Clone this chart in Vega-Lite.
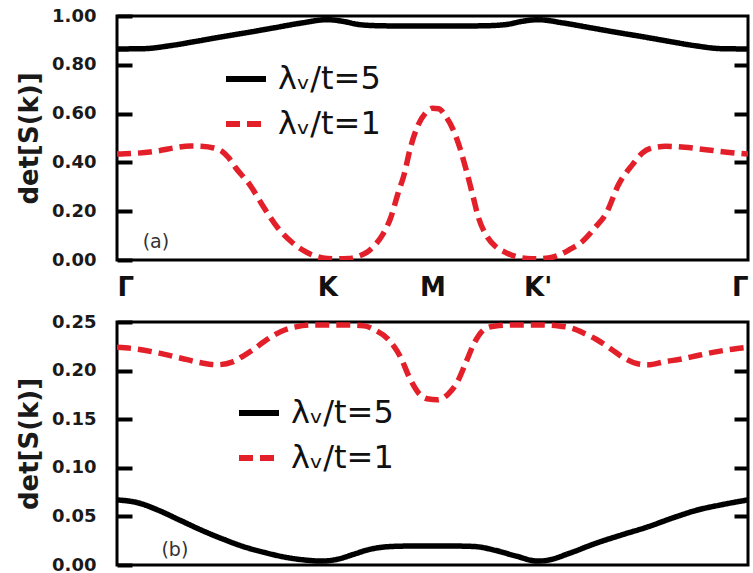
{
  "$schema": "https://vega.github.io/schema/vega-lite/v6.json",
  "padding": {"top": 5, "left": 15, "right": 0, "bottom": 0},
  "spacing": 9,
  "background": "white",
  "config": {
    "view": {"stroke": "#000000", "strokeWidth": 3},
    "font": "DejaVu Sans",
    "axis": {
      "labelFont": "DejaVu Sans",
      "labelFontWeight": "bold",
      "labelColor": "#1a1a1a",
      "titleFont": "DejaVu Sans",
      "titleFontWeight": "bold",
      "titleColor": "#1a1a1a",
      "grid": false,
      "domain": false
    },
    "legend": {
      "orient": "none",
      "title": null,
      "symbolType": "stroke",
      "symbolSize": 1600,
      "symbolStrokeWidth": 6,
      "labelFont": "DejaVu Sans",
      "labelFontSize": 32,
      "labelColor": "#111111",
      "labelOffset": 9,
      "rowPadding": 6,
      "padding": 0
    }
  },
  "resolve": {"legend": {"color": "independent", "strokeDash": "independent"}},
  "datasets": {
    "a": [
      {"x": 0, "v": 0.865, "s": "5"}, {"x": 0.25, "v": 0.866, "s": "5"}, {"x": 0.5, "v": 0.878, "s": "5"}, {"x": 0.75, "v": 0.896, "s": "5"},
      {"x": 1.0, "v": 0.915, "s": "5"}, {"x": 1.25, "v": 0.933, "s": "5"}, {"x": 1.5, "v": 0.952, "s": "5"}, {"x": 1.75, "v": 0.971, "s": "5"},
      {"x": 2.0, "v": 0.985, "s": "5"}, {"x": 2.15, "v": 0.978, "s": "5"}, {"x": 2.3, "v": 0.965, "s": "5"}, {"x": 2.5, "v": 0.96, "s": "5"},
      {"x": 2.75, "v": 0.959, "s": "5"}, {"x": 3.0, "v": 0.959, "s": "5"}, {"x": 3.25, "v": 0.959, "s": "5"}, {"x": 3.5, "v": 0.96, "s": "5"},
      {"x": 3.7, "v": 0.965, "s": "5"}, {"x": 3.85, "v": 0.978, "s": "5"}, {"x": 4.0, "v": 0.985, "s": "5"}, {"x": 4.25, "v": 0.971, "s": "5"},
      {"x": 4.5, "v": 0.952, "s": "5"}, {"x": 4.75, "v": 0.933, "s": "5"}, {"x": 5.0, "v": 0.915, "s": "5"}, {"x": 5.25, "v": 0.896, "s": "5"},
      {"x": 5.5, "v": 0.878, "s": "5"}, {"x": 5.75, "v": 0.866, "s": "5"}, {"x": 6.0, "v": 0.865, "s": "5"},
      {"x": 0, "v": 0.434, "s": "1"}, {"x": 0.2, "v": 0.438, "s": "1"}, {"x": 0.4, "v": 0.448, "s": "1"}, {"x": 0.55, "v": 0.46, "s": "1"},
      {"x": 0.7, "v": 0.467, "s": "1"}, {"x": 0.8, "v": 0.466, "s": "1"}, {"x": 0.92, "v": 0.459, "s": "1"}, {"x": 1.0, "v": 0.445, "s": "1"},
      {"x": 1.06, "v": 0.42, "s": "1"}, {"x": 1.13, "v": 0.377, "s": "1"}, {"x": 1.26, "v": 0.31, "s": "1"}, {"x": 1.4, "v": 0.213, "s": "1"},
      {"x": 1.53, "v": 0.131, "s": "1"}, {"x": 1.65, "v": 0.078, "s": "1"}, {"x": 1.78, "v": 0.037, "s": "1"}, {"x": 1.9, "v": 0.014, "s": "1"},
      {"x": 2.0, "v": 0.006, "s": "1"}, {"x": 2.1, "v": 0.005, "s": "1"}, {"x": 2.2, "v": 0.006, "s": "1"}, {"x": 2.3, "v": 0.016, "s": "1"},
      {"x": 2.38, "v": 0.033, "s": "1"}, {"x": 2.45, "v": 0.06, "s": "1"}, {"x": 2.52, "v": 0.1, "s": "1"}, {"x": 2.6, "v": 0.17, "s": "1"},
      {"x": 2.67, "v": 0.27, "s": "1"}, {"x": 2.73, "v": 0.35, "s": "1"}, {"x": 2.79, "v": 0.46, "s": "1"}, {"x": 2.86, "v": 0.55, "s": "1"},
      {"x": 2.93, "v": 0.6, "s": "1"}, {"x": 3.0, "v": 0.622, "s": "1"}, {"x": 3.06, "v": 0.62, "s": "1"}, {"x": 3.12, "v": 0.592, "s": "1"},
      {"x": 3.19, "v": 0.54, "s": "1"}, {"x": 3.26, "v": 0.46, "s": "1"}, {"x": 3.32, "v": 0.37, "s": "1"}, {"x": 3.38, "v": 0.27, "s": "1"},
      {"x": 3.44, "v": 0.17, "s": "1"}, {"x": 3.52, "v": 0.095, "s": "1"}, {"x": 3.6, "v": 0.055, "s": "1"}, {"x": 3.7, "v": 0.03, "s": "1"},
      {"x": 3.8, "v": 0.013, "s": "1"}, {"x": 3.9, "v": 0.006, "s": "1"}, {"x": 4.0, "v": 0.005, "s": "1"}, {"x": 4.1, "v": 0.008, "s": "1"},
      {"x": 4.2, "v": 0.02, "s": "1"}, {"x": 4.3, "v": 0.042, "s": "1"}, {"x": 4.43, "v": 0.078, "s": "1"}, {"x": 4.55, "v": 0.135, "s": "1"},
      {"x": 4.65, "v": 0.19, "s": "1"}, {"x": 4.77, "v": 0.31, "s": "1"}, {"x": 4.9, "v": 0.39, "s": "1"}, {"x": 5.0, "v": 0.44, "s": "1"},
      {"x": 5.06, "v": 0.455, "s": "1"}, {"x": 5.22, "v": 0.466, "s": "1"}, {"x": 5.4, "v": 0.462, "s": "1"}, {"x": 5.6, "v": 0.452, "s": "1"},
      {"x": 5.8, "v": 0.442, "s": "1"}, {"x": 6.0, "v": 0.434, "s": "1"}
    ],
    "b": [
      {"x": 0, "v": 0.067, "s": "5"}, {"x": 0.2, "v": 0.064, "s": "5"}, {"x": 0.4, "v": 0.056, "s": "5"}, {"x": 0.6, "v": 0.046, "s": "5"},
      {"x": 0.8, "v": 0.036, "s": "5"}, {"x": 1.0, "v": 0.027, "s": "5"}, {"x": 1.2, "v": 0.019, "s": "5"}, {"x": 1.4, "v": 0.013, "s": "5"},
      {"x": 1.6, "v": 0.008, "s": "5"}, {"x": 1.8, "v": 0.005, "s": "5"}, {"x": 1.95, "v": 0.004, "s": "5"}, {"x": 2.1, "v": 0.006, "s": "5"},
      {"x": 2.25, "v": 0.011, "s": "5"}, {"x": 2.4, "v": 0.016, "s": "5"}, {"x": 2.6, "v": 0.019, "s": "5"}, {"x": 2.8, "v": 0.0195, "s": "5"},
      {"x": 3.0, "v": 0.0195, "s": "5"}, {"x": 3.2, "v": 0.0195, "s": "5"}, {"x": 3.4, "v": 0.019, "s": "5"}, {"x": 3.6, "v": 0.015, "s": "5"},
      {"x": 3.8, "v": 0.009, "s": "5"}, {"x": 4.0, "v": 0.004, "s": "5"}, {"x": 4.1, "v": 0.005, "s": "5"}, {"x": 4.3, "v": 0.012, "s": "5"},
      {"x": 4.56, "v": 0.0226, "s": "5"}, {"x": 4.8, "v": 0.031, "s": "5"}, {"x": 5.04, "v": 0.039, "s": "5"}, {"x": 5.3, "v": 0.049, "s": "5"},
      {"x": 5.52, "v": 0.0566, "s": "5"}, {"x": 5.75, "v": 0.062, "s": "5"}, {"x": 6.0, "v": 0.067, "s": "5"},
      {"x": 0, "v": 0.224, "s": "1"}, {"x": 0.2, "v": 0.222, "s": "1"}, {"x": 0.4, "v": 0.218, "s": "1"}, {"x": 0.6, "v": 0.213, "s": "1"},
      {"x": 0.8, "v": 0.208, "s": "1"}, {"x": 0.95, "v": 0.206, "s": "1"}, {"x": 1.1, "v": 0.209, "s": "1"}, {"x": 1.2, "v": 0.215, "s": "1"},
      {"x": 1.3, "v": 0.222, "s": "1"}, {"x": 1.4, "v": 0.23, "s": "1"}, {"x": 1.5, "v": 0.237, "s": "1"}, {"x": 1.6, "v": 0.242, "s": "1"},
      {"x": 1.7, "v": 0.245, "s": "1"}, {"x": 1.85, "v": 0.247, "s": "1"}, {"x": 2.0, "v": 0.247, "s": "1"}, {"x": 2.2, "v": 0.247, "s": "1"},
      {"x": 2.35, "v": 0.246, "s": "1"}, {"x": 2.45, "v": 0.242, "s": "1"}, {"x": 2.59, "v": 0.231, "s": "1"}, {"x": 2.7, "v": 0.213, "s": "1"},
      {"x": 2.78, "v": 0.193, "s": "1"}, {"x": 2.86, "v": 0.178, "s": "1"}, {"x": 2.95, "v": 0.171, "s": "1"}, {"x": 3.05, "v": 0.17, "s": "1"},
      {"x": 3.15, "v": 0.176, "s": "1"}, {"x": 3.23, "v": 0.187, "s": "1"}, {"x": 3.32, "v": 0.209, "s": "1"}, {"x": 3.4, "v": 0.229, "s": "1"},
      {"x": 3.5, "v": 0.243, "s": "1"}, {"x": 3.6, "v": 0.246, "s": "1"}, {"x": 3.8, "v": 0.247, "s": "1"}, {"x": 4.0, "v": 0.247, "s": "1"},
      {"x": 4.2, "v": 0.246, "s": "1"}, {"x": 4.31, "v": 0.244, "s": "1"}, {"x": 4.45, "v": 0.238, "s": "1"}, {"x": 4.56, "v": 0.232, "s": "1"},
      {"x": 4.7, "v": 0.222, "s": "1"}, {"x": 4.82, "v": 0.213, "s": "1"}, {"x": 4.95, "v": 0.207, "s": "1"}, {"x": 5.05, "v": 0.206, "s": "1"},
      {"x": 5.2, "v": 0.209, "s": "1"}, {"x": 5.37, "v": 0.212, "s": "1"}, {"x": 5.5, "v": 0.215, "s": "1"}, {"x": 5.68, "v": 0.219, "s": "1"},
      {"x": 5.85, "v": 0.222, "s": "1"}, {"x": 6.0, "v": 0.224, "s": "1"}
    ],
    "annA": [{"x": 0.37, "v": 0.074, "t": "(a)"}],
    "annB": [{"x": 0.55, "v": 0.0155, "t": "(b)"}]
  },
  "vconcat": [
    {
      "width": 631,
      "height": 244,
      "resolve": {"scale": {"y": "independent"}},
      "layer": [
        {
          "data": {"name": "a"},
          "mark": {"type": "line", "interpolate": "monotone", "strokeWidth": 5.5, "clip": true},
          "encoding": {
            "x": {"field": "x", "type": "quantitative", "scale": {"domain": [0, 6], "nice": false},
              "axis": {"values": [0, 2, 3, 4, 6], "labelExpr": "datum.value == 0 ? 'Γ' : datum.value == 2 ? 'K' : datum.value == 3 ? 'M' : datum.value == 4 ? \"K'\" : 'Γ'",
                "labelFlush": true, "ticks": false, "title": null, "labelFontSize": 26, "labelPadding": 14, "labelColor": "#111111"}},
            "y": {"field": "v", "type": "quantitative", "scale": {"domain": [0, 1], "nice": false},
              "axis": {"values": [0, 0.2, 0.4, 0.6, 0.8, 1.0], "format": ".2f", "title": "det[S(k)]", "titleFontSize": 26, "titlePadding": 9,
                "labelFontSize": 18, "labelPadding": 36, "tickSize": -15, "tickWidth": 4, "tickColor": "#000000"}},
            "color": {"field": "s", "type": "nominal", "scale": {"domain": ["5", "1"], "range": ["#000000", "#e3202a"]},
              "legend": {"legendX": 106, "legendY": 40, "labelExpr": "'λᵥ/t=' + datum.label"}},
            "strokeDash": {"field": "s", "type": "nominal", "scale": {"domain": ["5", "1"], "range": [[1, 0], [14, 7]]},
              "legend": {"legendX": 106, "legendY": 40, "labelExpr": "'λᵥ/t=' + datum.label"}}
          }
        },
        {
          "data": {"name": "annA"},
          "mark": {"type": "text", "fontSize": 19, "color": "#333333", "font": "DejaVu Sans"},
          "encoding": {
            "x": {"field": "x", "type": "quantitative"},
            "y": {"field": "v", "type": "quantitative", "scale": {"domain": [0, 1], "nice": false},
              "axis": {"orient": "right", "values": [0.2, 0.4, 0.6, 0.8], "labels": false, "title": null, "tickSize": -14, "tickWidth": 4, "tickColor": "#000000"}},
            "text": {"field": "t"}
          }
        }
      ]
    },
    {
      "width": 631,
      "height": 243,
      "resolve": {"scale": {"y": "independent"}},
      "layer": [
        {
          "data": {"name": "b"},
          "mark": {"type": "line", "interpolate": "monotone", "strokeWidth": 5.5, "clip": true},
          "encoding": {
            "x": {"field": "x", "type": "quantitative", "scale": {"domain": [0, 6], "nice": false}, "axis": null},
            "y": {"field": "v", "type": "quantitative", "scale": {"domain": [0, 0.25], "nice": false},
              "axis": {"values": [0, 0.05, 0.1, 0.15, 0.2, 0.25], "format": ".2f", "title": "det[S(k)]", "titleFontSize": 26, "titlePadding": 9,
                "labelFontSize": 18, "labelPadding": 36, "tickSize": -15, "tickWidth": 4, "tickColor": "#000000"}},
            "color": {"field": "s", "type": "nominal", "scale": {"domain": ["5", "1"], "range": ["#000000", "#e3202a"]},
              "legend": {"legendX": 119, "legendY": 68, "labelExpr": "'λᵥ/t=' + datum.label"}},
            "strokeDash": {"field": "s", "type": "nominal", "scale": {"domain": ["5", "1"], "range": [[1, 0], [14, 7]]},
              "legend": {"legendX": 119, "legendY": 68, "labelExpr": "'λᵥ/t=' + datum.label"}}
          }
        },
        {
          "data": {"name": "annB"},
          "mark": {"type": "text", "fontSize": 19, "color": "#333333", "font": "DejaVu Sans"},
          "encoding": {
            "x": {"field": "x", "type": "quantitative"},
            "y": {"field": "v", "type": "quantitative", "scale": {"domain": [0, 0.25], "nice": false},
              "axis": {"orient": "right", "values": [0.05, 0.1, 0.15, 0.2], "labels": false, "title": null, "tickSize": -14, "tickWidth": 4, "tickColor": "#000000"}},
            "text": {"field": "t"}
          }
        }
      ]
    }
  ]
}
